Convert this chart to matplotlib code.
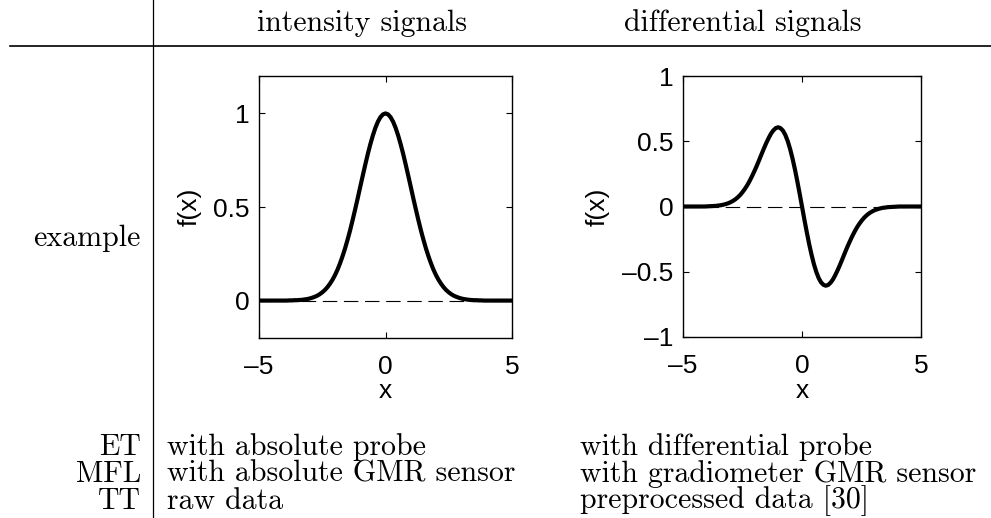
import matplotlib
matplotlib.use("Agg")
import matplotlib.pyplot as plt

# ---- data ----
x_vals = [round(-5 + 0.1 * i, 1) for i in range(101)]
g_half = [1.000, 0.995, 0.980, 0.956, 0.923, 0.882, 0.835, 0.783, 0.726, 0.667,
          0.607, 0.546, 0.487, 0.430, 0.375, 0.325, 0.278, 0.236, 0.198, 0.164,
          0.135, 0.110, 0.089, 0.071, 0.056, 0.044, 0.034, 0.026, 0.020, 0.015,
          0.011, 0.008, 0.006, 0.004, 0.003, 0.002, 0.002, 0.001, 0.001, 0.000,
          0.000, 0.000, 0.000, 0.000, 0.000, 0.000, 0.000, 0.000, 0.000, 0.000,
          0.000]
intensity = g_half[::-1] + g_half[1:]
d_half = [0.000, -0.100, -0.196, -0.287, -0.369, -0.441, -0.501, -0.548, -0.581, -0.600,
          -0.607, -0.601, -0.584, -0.559, -0.525, -0.487, -0.445, -0.401, -0.356, -0.312,
          -0.271, -0.232, -0.196, -0.163, -0.135, -0.110, -0.088, -0.070, -0.055, -0.043,
          -0.033, -0.025, -0.019, -0.014, -0.010, -0.008, -0.005, -0.004, -0.003, -0.002,
          -0.001, 0.000, 0.000, 0.000, 0.000, 0.000, 0.000, 0.000, 0.000, 0.000,
          0.000]
differential = [-v for v in d_half[::-1]] + d_half[1:]

col_titles = ["intensity signals", "differential signals"]
row_labels = ["ET", "MFL", "TT"]
col1_texts = ["with absolute probe", "with absolute GMR sensor", "raw data"]
col2_texts = ["with differential probe", "with gradiometer GMR sensor", "preprocessed data [30]"]
left_yticks = [0, 0.5, 1]
right_yticks = [-1, -0.5, 0, 0.5, 1]
xticks = [-5, 0, 5]

W, H = 991, 518
fig = plt.figure(figsize=(W / 100, H / 100), dpi=100)
serif = "cmr10"
tsize = 21.5

def fx(px):
    return px / W

def fy(py):
    return 1 - py / H

# table lines
fig.add_artist(plt.Line2D([fx(10), fx(991)], [fy(46), fy(46)], color="black", lw=1.2))
fig.add_artist(plt.Line2D([fx(153), fx(153)], [fy(0), fy(518)], color="black", lw=0.9))

fig.text(fx(362), fy(23), col_titles[0], family=serif, size=tsize, ha="center", va="center")
fig.text(fx(743), fy(23), col_titles[1], family=serif, size=tsize, ha="center", va="center")
fig.text(fx(141), fy(238), "example", family=serif, size=tsize, ha="right", va="center")
rows_y = [447, 474, 501]
for lab, t1, t2, yy in zip(row_labels, col1_texts, col2_texts, rows_y):
    fig.text(fx(141), fy(yy), lab, family=serif, size=tsize, ha="right", va="center")
    fig.text(fx(167), fy(yy), t1, family=serif, size=tsize, ha="left", va="center")
    fig.text(fx(580), fy(yy), t2, family=serif, size=tsize, ha="left", va="center")

sans = "Liberation Sans"
fsize = 19

def make_ax(left, right, top, bottom, yvals, ylim, yticks, ylab_x):
    ax = fig.add_axes([fx(left), fy(bottom), (right - left) / W, (bottom - top) / H])
    ax.plot(x_vals, yvals, color="black", lw=3.0, solid_capstyle="round",
            solid_joinstyle="round", zorder=3)
    ax.plot([x_vals[0], x_vals[-1]], [0, 0], color="black", lw=0.8, dashes=(13, 6), zorder=2)
    ax.set_xlim(-5, 5)
    ax.set_ylim(*ylim)
    ax.set_xticks(xticks)
    ax.set_yticks(yticks)
    ax.set_xticklabels([str(t).replace("-", "\u2013") for t in xticks], family=sans, size=fsize)
    ax.set_yticklabels([("%g" % t).replace("-", "\u2013") for t in yticks], family=sans, size=fsize)
    ax.tick_params(direction="in", top=True, right=True, length=4, width=0.8)
    ax.tick_params(axis="x", pad=12)
    ax.tick_params(axis="y", pad=7)
    for s in ax.spines.values():
        s.set_linewidth(1.0)
    ax.set_xlabel("x", family=sans, size=fsize)
    ax.set_ylabel("f(x)", family=sans, size=fsize)
    ax.xaxis.set_label_coords(0.5, (bottom - 391) / (bottom - top))
    ax.yaxis.set_label_coords((ylab_x - left) / (right - left), 0.5)
    ax.xaxis.label.set_va("center")
    ax.yaxis.label.set_va("center")
    return ax

make_ax(259, 512, 76, 338, intensity, (-0.2, 1.2), left_yticks, 190)
make_ax(683, 921, 76, 337, differential, (-1, 1), right_yticks, 598)

fig.savefig("out.png", dpi=100)
